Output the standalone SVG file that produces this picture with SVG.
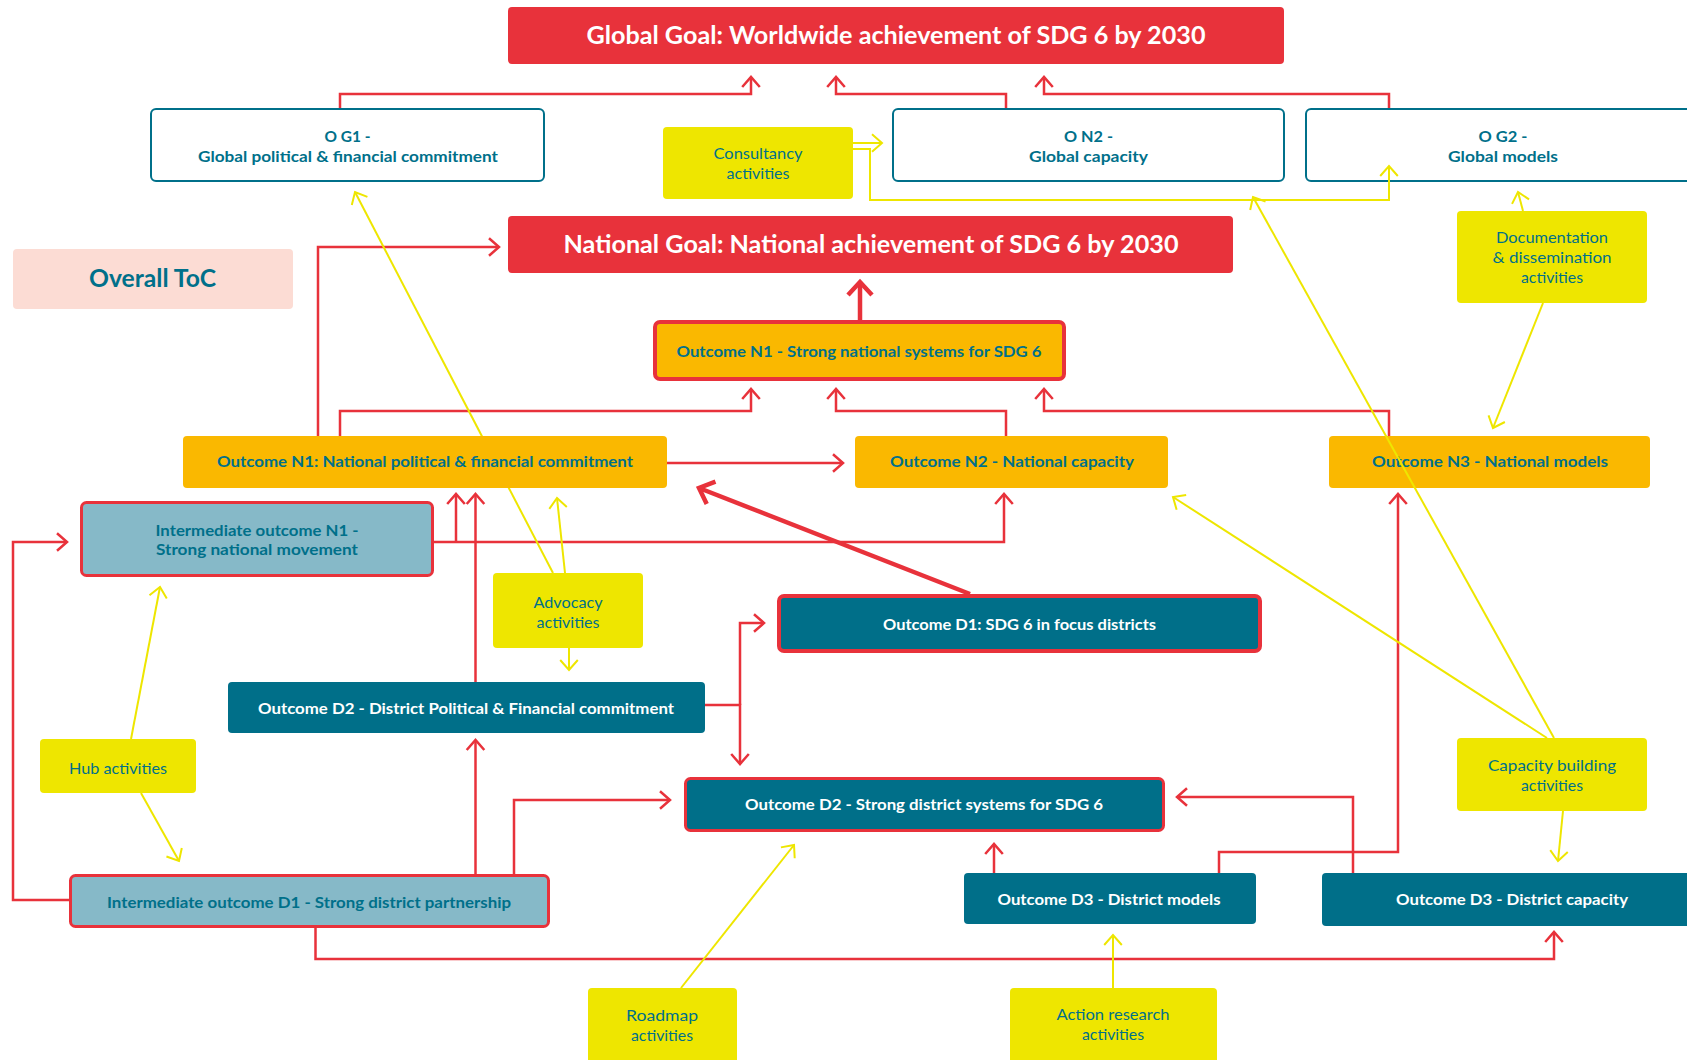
<svg xmlns="http://www.w3.org/2000/svg" width="1687" height="1060" viewBox="0 0 1687 1060">
<style>
.t{font-family:Lato,'Liberation Sans',sans-serif;text-anchor:middle}
.b{font-weight:700;font-size:16px;fill:#00708a}
.a{font-weight:400;font-size:16px;fill:#00708a}
.g{font-weight:700;font-size:24px;fill:#fff}
.wt{fill:#fff}
.red{fill:#e8323b}
.wht{fill:#fff;stroke:#00708a;stroke-width:2}
.yel{fill:#eee600}
.org{fill:#fab800}
.orgr{fill:#fab800;stroke:#e8323b;stroke-width:4}
.lb{fill:#86b9c8;stroke:#e8323b;stroke-width:3}
.tl{fill:#006f89}
.tlr4{fill:#006f89;stroke:#e8323b;stroke-width:4}
.tlr3{fill:#006f89;stroke:#e8323b;stroke-width:3}
.pink{fill:#fcdcd4}
.cr{fill:none;stroke:#e8323b;stroke-width:2.5;marker-end:url(#ar)}
.cy{fill:none;stroke:#eee600;stroke-width:2;marker-end:url(#ay)}
.ct{fill:none;stroke:#e8323b;stroke-width:4.5;marker-end:url(#at)}
</style>
<defs>
<marker id="ar" markerUnits="userSpaceOnUse" markerWidth="30" markerHeight="30" viewBox="-15 -15 30 30" refX="0" refY="0" orient="auto">
<path d="M-10,-8.8 L0,0 L-10,8.8" fill="none" stroke="#e8323b" stroke-width="2.5"/>
</marker>
<marker id="ay" markerUnits="userSpaceOnUse" markerWidth="30" markerHeight="30" viewBox="-15 -15 30 30" refX="0" refY="0" orient="auto">
<path d="M-10,-8.8 L0,0 L-10,8.8" fill="none" stroke="#eee600" stroke-width="2"/>
</marker>
<marker id="at" markerUnits="userSpaceOnUse" markerWidth="40" markerHeight="40" viewBox="-20 -20 40 40" refX="0" refY="0" orient="auto">
<path d="M-13,-12 L0,0 L-13,12" fill="none" stroke="#e8323b" stroke-width="4.5"/>
</marker>
</defs>
<rect width="1687" height="1060" fill="#fff"/>

<g id="connectors">
<path class="cr" d="M340,108 V94 H751 V77"/>
<path class="cr" d="M1006,108 V94 H836 V77"/>
<path class="cr" d="M1389,108 V94 H1044 V77"/>
<path class="cr" d="M318,436 V247 H499"/>
<path class="cr" d="M340,436 V411 H751 V389"/>
<path class="cr" d="M1006,436 V411 H836 V389"/>
<path class="cr" d="M1389,436 V411 H1044 V389"/>
<path class="cr" d="M667,463 H843"/>
<path class="cr" d="M434,542 H1004 V494"/>
<path class="cr" d="M456,542 V494"/>
<path class="cr" d="M475.5,682 V494"/>
<path class="cr" d="M69,900 H13 V542 H67"/>
<path class="cr" d="M704,705 H740 V764"/>
<path class="cr" d="M740,705 V623 H764"/>
<path class="cr" d="M475.5,874 V740"/>
<path class="cr" d="M514,874 V800 H670"/>
<path class="cr" d="M315.5,928 V959 H1554 V932"/>
<path class="cr" d="M994,873 V844"/>
<path class="cr" d="M1219,873 V852 H1398 V494"/>
<path class="cr" d="M1353,873 V797 H1177"/>
<path class="ct" d="M860,320 V282"/>
<path class="ct" d="M970,594 L699,488"/>
<path class="cy" d="M853,143 H882"/>
<path class="cy" d="M1547,738 L1173,497"/>
<path class="cy" d="M1563,811 L1558,861"/>
<path class="cy" d="M1523,211 L1518,192"/>
<path class="cy" d="M1543,303 L1493,428"/>
<path class="cy" d="M553,573 L355,192"/>
<path class="cy" d="M565,573 L557,498"/>
<path class="cy" d="M569,648 V670"/>
<path class="cy" d="M131,739 L160,587"/>
<path class="cy" d="M141,793 L179,861"/>
<path class="cy" d="M681,988 L794,845"/>
<path class="cy" d="M1113,988 V935"/>
</g>

<g id="global-goal"><rect class="red" x="508" y="7" width="776" height="57" rx="4"/>
<text class="t g" x="896" y="44" textLength="619" lengthAdjust="spacingAndGlyphs">Global Goal: Worldwide achievement of SDG 6 by 2030</text></g>

<g id="og1"><rect class="wht" x="151" y="109" width="393" height="72" rx="5"/>
<text class="t b" x="347.5" y="142" textLength="46" lengthAdjust="spacingAndGlyphs">O G1 -</text>
<text class="t b" x="348" y="161.5" textLength="300" lengthAdjust="spacingAndGlyphs">Global political &amp; financial commitment</text></g>

<g id="consultancy"><rect class="yel" x="663" y="127" width="190" height="72" rx="4"/>
<text class="t a" x="758" y="159" textLength="89" lengthAdjust="spacingAndGlyphs">Consultancy</text>
<text class="t a" x="758" y="179" textLength="63" lengthAdjust="spacingAndGlyphs">activities</text></g>

<g id="on2"><rect class="wht" x="893" y="109" width="391" height="72" rx="5"/>
<text class="t b" x="1088.5" y="142" textLength="49" lengthAdjust="spacingAndGlyphs">O N2 -</text>
<text class="t b" x="1088.5" y="161.5" textLength="119" lengthAdjust="spacingAndGlyphs">Global capacity</text></g>

<g id="og2"><rect class="wht" x="1306" y="109" width="400" height="72" rx="5"/>
<text class="t b" x="1503" y="142" textLength="49" lengthAdjust="spacingAndGlyphs">O G2 -</text>
<text class="t b" x="1503" y="161.5" textLength="110" lengthAdjust="spacingAndGlyphs">Global models</text></g>

<g id="national-goal"><rect class="red" x="508" y="216" width="725" height="57" rx="4"/>
<text class="t g" x="871" y="253" textLength="615" lengthAdjust="spacingAndGlyphs">National Goal: National achievement of SDG 6 by 2030</text></g>

<g id="overall-toc"><rect class="pink" x="13" y="249" width="280" height="60" rx="4"/>
<text class="t" x="152.5" y="287" font-size="24" font-weight="700" fill="#00708a" textLength="127" lengthAdjust="spacingAndGlyphs">Overall ToC</text></g>

<g id="documentation"><rect class="yel" x="1457" y="211" width="190" height="92" rx="4"/>
<text class="t a" x="1552" y="243" textLength="112" lengthAdjust="spacingAndGlyphs">Documentation</text>
<text class="t a" x="1552" y="263" textLength="119" lengthAdjust="spacingAndGlyphs">&amp; dissemination</text>
<text class="t a" x="1552" y="283" textLength="62" lengthAdjust="spacingAndGlyphs">activities</text></g>

<g id="outcome-n1-strong"><rect class="orgr" x="655" y="322" width="409" height="57" rx="5"/>
<text class="t b" x="859" y="357" textLength="365" lengthAdjust="spacingAndGlyphs">Outcome N1 - Strong national systems for SDG 6</text></g>

<g id="outcome-n1-political"><rect class="org" x="183" y="436" width="484" height="52" rx="4"/>
<text class="t b" x="425" y="467" textLength="416" lengthAdjust="spacingAndGlyphs">Outcome N1: National political &amp; financial commitment</text></g>

<g id="outcome-n2"><rect class="org" x="855" y="436" width="313" height="52" rx="4"/>
<text class="t b" x="1012" y="467" textLength="244" lengthAdjust="spacingAndGlyphs">Outcome N2 - National capacity</text></g>

<g id="outcome-n3"><rect class="org" x="1329" y="436" width="321" height="52" rx="4"/>
<text class="t b" x="1490" y="467" textLength="236" lengthAdjust="spacingAndGlyphs">Outcome N3 - National models</text></g>

<g id="intermediate-n1"><rect class="lb" x="81.5" y="502.5" width="351" height="73" rx="5"/>
<text class="t b" x="257" y="535.5" textLength="203" lengthAdjust="spacingAndGlyphs">Intermediate outcome N1 -</text>
<text class="t b" x="257" y="555" textLength="202" lengthAdjust="spacingAndGlyphs">Strong national movement</text></g>

<g id="advocacy"><rect class="yel" x="493" y="573" width="150" height="75" rx="4"/>
<text class="t a" x="568" y="608" textLength="69" lengthAdjust="spacingAndGlyphs">Advocacy</text>
<text class="t a" x="568" y="628" textLength="63" lengthAdjust="spacingAndGlyphs">activities</text></g>

<g id="outcome-d1"><rect class="tlr4" x="779" y="596" width="481" height="55" rx="5"/>
<text class="t b wt" x="1019.5" y="630" textLength="273" lengthAdjust="spacingAndGlyphs">Outcome D1: SDG 6 in focus districts</text></g>

<g id="outcome-d2-political"><rect class="tl" x="228" y="682" width="477" height="51" rx="4"/>
<text class="t b wt" x="466" y="714" textLength="416" lengthAdjust="spacingAndGlyphs">Outcome D2 - District Political &amp; Financial commitment</text></g>

<g id="hub"><rect class="yel" x="40" y="739" width="156" height="54" rx="4"/>
<text class="t a" x="118" y="774" textLength="98" lengthAdjust="spacingAndGlyphs">Hub activities</text></g>

<g id="outcome-d2-strong"><rect class="tlr3" x="685.5" y="778.5" width="478" height="52" rx="5"/>
<text class="t b wt" x="924" y="810" textLength="358" lengthAdjust="spacingAndGlyphs">Outcome D2 - Strong district systems for SDG 6</text></g>

<g id="capacity-building"><rect class="yel" x="1457" y="738" width="190" height="73" rx="4"/>
<text class="t a" x="1552" y="770.5" textLength="128" lengthAdjust="spacingAndGlyphs">Capacity building</text>
<text class="t a" x="1552" y="791" textLength="62" lengthAdjust="spacingAndGlyphs">activities</text></g>

<g id="intermediate-d1"><rect class="lb" x="70.5" y="875.5" width="478" height="51" rx="5"/>
<text class="t b" x="309" y="908" textLength="404" lengthAdjust="spacingAndGlyphs">Intermediate outcome D1 - Strong district partnership</text></g>

<g id="outcome-d3-models"><rect class="tl" x="964" y="873" width="292" height="51" rx="4"/>
<text class="t b wt" x="1109" y="905" textLength="223" lengthAdjust="spacingAndGlyphs">Outcome D3 - District models</text></g>

<g id="outcome-d3-capacity"><rect class="tl" x="1322" y="873" width="400" height="53" rx="4"/>
<text class="t b wt" x="1512" y="905" textLength="232" lengthAdjust="spacingAndGlyphs">Outcome D3 - District capacity</text></g>

<g id="roadmap"><rect class="yel" x="588" y="988" width="149" height="80" rx="4"/>
<text class="t a" x="662" y="1021" textLength="72" lengthAdjust="spacingAndGlyphs">Roadmap</text>
<text class="t a" x="662" y="1041" textLength="62" lengthAdjust="spacingAndGlyphs">activities</text></g>

<g id="action-research"><rect class="yel" x="1010" y="988" width="207" height="80" rx="4"/>
<text class="t a" x="1113" y="1020" textLength="113" lengthAdjust="spacingAndGlyphs">Action research</text>
<text class="t a" x="1113" y="1040" textLength="62" lengthAdjust="spacingAndGlyphs">activities</text></g>

<g id="connectors-over">
<path class="cy" d="M853,149 H870 V200 H1389 V166"/>
<path class="cy" d="M1554,738 L1253,197"/>
</g>
</svg>
